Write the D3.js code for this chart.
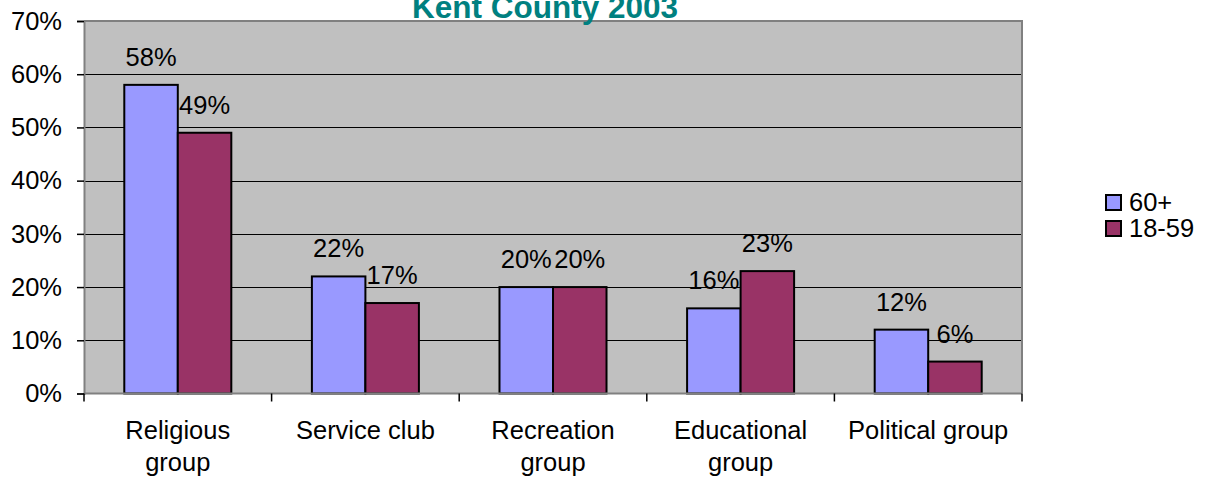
<!DOCTYPE html>
<html>
<head>
<meta charset="utf-8">
<script src="https://cdn.jsdelivr.net/npm/d3@7"></script>
<style>
  html, body { margin: 0; padding: 0; background: #fff; }
  svg { display: block; font-family: "Liberation Sans", Arial, sans-serif; }
</style>
</head>
<body>
<svg id="chart" width="1212" height="480"></svg>
<script>
// Community group participation by age, Kent County 2003
const categories = [["Religious", "group"], ["Service club"], ["Recreation", "group"], ["Educational", "group"], ["Political group"]];
const seriesNames = ["60+", "18-59"];
const seniors = [58, 22, 20, 16, 12];
const adults = [49, 17, 20, 23, 6];
const yTicks = [0, 10, 20, 30, 40, 50, 60, 70];
const colors = ["#9999FF", "#993366"];
const title = "Kent County 2003";

const svg = d3.select("#chart");
const margin = { left: 84, right: 1022, top: 21, bottom: 393.5 };

const catIdx = d3.range(categories.length);
const x0 = d3.scaleBand().domain(catIdx).range([margin.left, margin.right]).padding(0);
const x1 = d3.scaleBand().domain(seriesNames).range([0, x0.bandwidth()]).paddingInner(0).paddingOuter(0.753);
const y = d3.scaleLinear().domain([0, 70]).range([margin.bottom, margin.top]);
const color = d3.scaleOrdinal().domain(seriesNames).range(colors);

const rows = catIdx.map(i => ({ i, values: [seniors[i], adults[i]] }));

// plot background
svg.append("rect")
  .attr("x", margin.left).attr("y", margin.top)
  .attr("width", margin.right - margin.left).attr("height", margin.bottom - margin.top)
  .attr("fill", "#C0C0C0");

// horizontal gridlines
svg.append("g").selectAll("line")
  .data(yTicks.filter(t => t > 0 && t < 70))
  .join("line")
  .attr("x1", margin.left).attr("x2", margin.right)
  .attr("y1", d => Math.round(y(d)) + 0.5).attr("y2", d => Math.round(y(d)) + 0.5)
  .attr("stroke", "#000").attr("stroke-width", 1);

// top and right frame
svg.append("path")
  .attr("d", `M${margin.left},${margin.top}H${margin.right}V${margin.bottom}`)
  .attr("fill", "none").attr("stroke", "#808080").attr("stroke-width", 2);

// bars
const groups = svg.append("g").selectAll("g")
  .data(rows).join("g")
  .attr("transform", d => `translate(${x0(d.i)},0)`);

groups.selectAll("rect")
  .data(d => d.values.map((v, k) => ({ key: seriesNames[k], v })))
  .join("rect")
  .attr("x", d => x1(d.key))
  .attr("y", d => y(d.v))
  .attr("width", x1.bandwidth())
  .attr("height", d => y(0) - y(d.v))
  .attr("fill", d => color(d.key))
  .attr("stroke", "#000").attr("stroke-width", 2);

// value labels
groups.selectAll("text")
  .data(d => d.values.map((v, k) => ({ key: seriesNames[k], v })))
  .join("text")
  .attr("x", d => x1(d.key) + x1.bandwidth() / 2)
  .attr("y", d => y(d.v) - 19)
  .attr("text-anchor", "middle")
  .attr("font-size", 25.5)
  .attr("fill", "#000")
  .text(d => d.v + "%");

// y axis
const yAxis = svg.append("g")
  .attr("transform", `translate(${margin.left},0)`)
  .call(d3.axisLeft(y).tickValues(yTicks).tickFormat(d => d + "%").tickSize(7).tickPadding(15));
yAxis.select(".domain").attr("stroke", "#808080").attr("stroke-width", 2);
yAxis.selectAll(".tick line").attr("stroke", "#000").attr("stroke-width", 1.5);
yAxis.selectAll(".tick text")
  .attr("font-size", 25.5).attr("fill", "#000")
  .attr("font-family", "Liberation Sans, Arial, sans-serif");

// x axis with ticks at category boundaries
const xAxisG = svg.append("g");
xAxisG.append("line")
  .attr("x1", margin.left).attr("x2", margin.right)
  .attr("y1", margin.bottom).attr("y2", margin.bottom)
  .attr("stroke", "#808080").attr("stroke-width", 2);
xAxisG.selectAll("line.tick")
  .data(d3.range(categories.length + 1))
  .join("line").attr("class", "tick")
  .attr("x1", d => margin.left + d * x0.step()).attr("x2", d => margin.left + d * x0.step())
  .attr("y1", margin.bottom).attr("y2", margin.bottom + 8)
  .attr("stroke", "#000").attr("stroke-width", 1.5);

xAxisG.selectAll("text.cat")
  .data(rows).join("text").attr("class", "cat")
  .attr("x", d => x0(d.i) + x0.bandwidth() / 2)
  .attr("y", 439)
  .attr("text-anchor", "middle")
  .attr("font-size", 25.5).attr("fill", "#000")
  .selectAll("tspan")
  .data(d => categories[d.i].map((t, k) => ({ t, k, x: x0(d.i) + x0.bandwidth() / 2 })))
  .join("tspan")
  .attr("x", d => d.x)
  .attr("dy", d => d.k === 0 ? 0 : 32)
  .text(d => d.t);

// title
svg.append("text")
  .attr("x", 545).attr("y", 18)
  .attr("text-anchor", "middle")
  .attr("font-size", 31.5).attr("font-weight", "bold")
  .attr("fill", "#008080")
  .text(title);

// legend
const legend = svg.append("g").selectAll("g")
  .data(seriesNames).join("g")
  .attr("transform", (d, i) => `translate(1106,${202 + i * 26})`);
legend.append("rect")
  .attr("x", 0).attr("y", -7).attr("width", 15).attr("height", 15)
  .attr("fill", d => color(d)).attr("stroke", "#000").attr("stroke-width", 2);
legend.append("text")
  .attr("x", 23).attr("y", 0).attr("dy", "0.35em")
  .attr("font-size", 25.5).attr("fill", "#000")
  .text(d => d);
</script>
</body>
</html>
